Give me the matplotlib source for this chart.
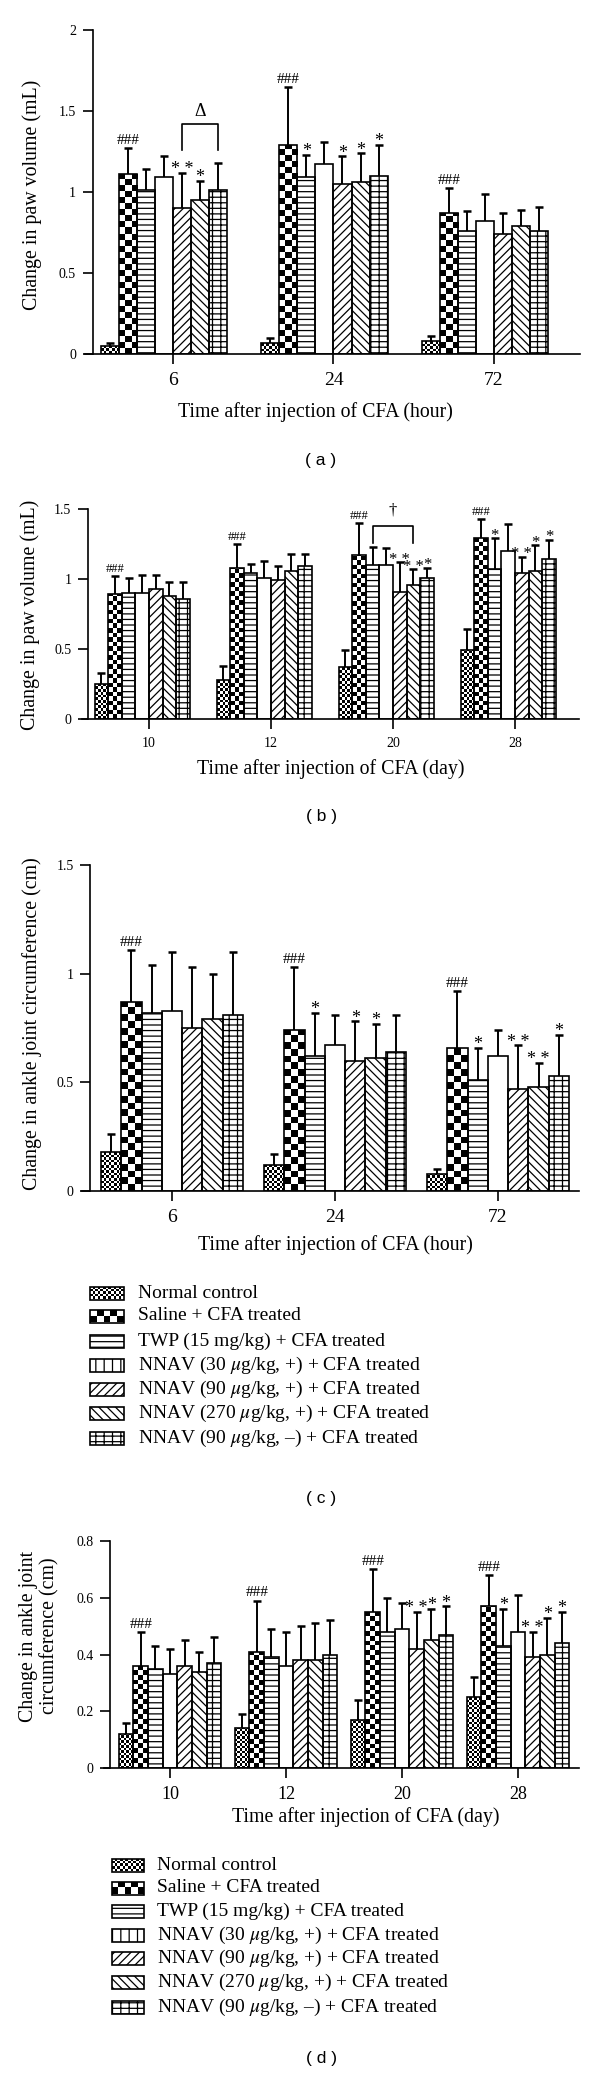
import numpy as np
import matplotlib
matplotlib.use('Agg')
import matplotlib.pyplot as plt
from matplotlib.patches import Rectangle

plt.rcParams['font.family'] = ['Liberation Serif', 'DejaVu Serif']
plt.rcParams['mathtext.fontset'] = 'stix'
plt.rcParams['hatch.linewidth'] = 0.9

# ---------------- data ----------------
series = ["Normal control", "Saline + CFA treated", "TWP (15 mg/kg) + CFA treated",
          "NNAV (30 $\\mu$g/kg, +) + CFA treated", "NNAV (90 $\\mu$g/kg, +) + CFA treated",
          "NNAV (270 $\\mu$g/kg, +) + CFA treated", "NNAV (90 $\\mu$g/kg, –) + CFA treated"]

A_ticks = ['6', '24', '72']
A_means = [[0.05, 1.11, 1.01, 1.09, 0.90, 0.95, 1.01],
           [0.07, 1.29, 1.09, 1.17, 1.05, 1.06, 1.10],
           [0.08, 0.87, 0.76, 0.82, 0.74, 0.79, 0.76]]
A_errs = [[0.02, 0.16, 0.13, 0.13, 0.22, 0.12, 0.17],
          [0.03, 0.36, 0.14, 0.14, 0.17, 0.18, 0.19],
          [0.03, 0.155, 0.12, 0.17, 0.13, 0.10, 0.15]]
A_marks = [['', '###', '', '', '**', '*', ''],
           ['', '###', '*', '', '*', '*', '*'],
           ['', '###', '', '', '', '', '']]

B_ticks = ['10', '12', '20', '28']
B_means = [[0.25, 0.89, 0.90, 0.90, 0.93, 0.88, 0.86],
           [0.28, 1.08, 1.04, 1.01, 0.99, 1.06, 1.09],
           [0.37, 1.17, 1.10, 1.10, 0.91, 0.96, 1.01],
           [0.49, 1.29, 1.07, 1.20, 1.04, 1.06, 1.14]]
B_errs = [[0.08, 0.13, 0.11, 0.13, 0.10, 0.10, 0.12],
          [0.10, 0.17, 0.07, 0.12, 0.10, 0.12, 0.09],
          [0.12, 0.23, 0.13, 0.12, 0.21, 0.11, 0.07],
          [0.15, 0.14, 0.22, 0.19, 0.12, 0.18, 0.14]]
B_marks = [['', '###', '', '', '', '', ''],
           ['', '###', '', '', '', '', ''],
           ['', '###', '', '', '**', '**', '*'],
           ['', '###', '*', '', '**', '*', '*']]

C_ticks = ['6', '24', '72']
C_means = [[0.18, 0.87, 0.82, 0.83, 0.75, 0.79, 0.81],
           [0.12, 0.74, 0.62, 0.67, 0.60, 0.61, 0.64],
           [0.08, 0.66, 0.51, 0.62, 0.47, 0.48, 0.53]]
C_errs = [[0.08, 0.24, 0.22, 0.27, 0.28, 0.21, 0.29],
          [0.05, 0.29, 0.20, 0.14, 0.18, 0.16, 0.17],
          [0.02, 0.26, 0.15, 0.12, 0.20, 0.11, 0.19]]
C_marks = [['', '###', '', '', '', '', ''],
           ['', '###', '*', '', '*', '*', ''],
           ['', '###', '*', '', '**', '**', '*']]

D_ticks = ['10', '12', '20', '28']
D_means = [[0.12, 0.36, 0.35, 0.33, 0.36, 0.34, 0.37],
           [0.14, 0.41, 0.39, 0.36, 0.38, 0.38, 0.40],
           [0.17, 0.55, 0.48, 0.49, 0.42, 0.45, 0.47],
           [0.25, 0.57, 0.43, 0.48, 0.39, 0.40, 0.44]]
D_errs = [[0.04, 0.12, 0.08, 0.09, 0.09, 0.07, 0.09],
          [0.05, 0.18, 0.10, 0.12, 0.12, 0.13, 0.12],
          [0.07, 0.15, 0.12, 0.09, 0.13, 0.11, 0.10],
          [0.07, 0.11, 0.13, 0.13, 0.09, 0.13, 0.11]]
D_marks = [['', '###', '', '', '', '', ''],
           ['', '###', '', '', '', '', ''],
           ['', '###', '', '', '**', '*', '*'],
           ['', '###', '*', '', '**', '*', '*']]

# ---------------- styles ----------------
W, H = 600, 2075
HATCH = ['', '', '---', '', '////', '\\\\\\\\', '---||']
LEG_HATCH = ['', '', '---', '||', '////', '\\\\\\\\', '---||']
CHECK = {0: 2.6, 1: 6.0}

fig = plt.figure(figsize=(W / 100, H / 100), dpi=100)
fig.patch.set_facecolor('white')


def px_axes(l, t, r, b):
    return fig.add_axes([l / W, 1 - b / H, (r - l) / W, (b - t) / H])


def checker_fill(ax, patch, size_px, pxx, pxy, z, fixed_cols=None):
    x0, y0 = patch.get_x(), patch.get_y()
    wd, h = patch.get_width(), patch.get_height()
    if h == 0:
        return
    ncols = fixed_cols if fixed_cols else max(2, int(round(wd * pxx / size_px)))
    cw = wd / ncols
    ch = cw * pxx / pxy
    nrows = max(1, int(np.ceil(abs(h) / ch)))
    arr = np.add.outer(np.arange(nrows), np.arange(ncols)) % 2
    im = ax.imshow(arr, extent=[x0, x0 + wd, y0, y0 + nrows * ch], origin='lower',
                   cmap='gray_r', vmin=0, vmax=1, interpolation='nearest',
                   aspect='auto', zorder=z)
    im.set_clip_path(patch)


def draw_panel(box, ticks, means, errs, marks, wfrac, shift, xlim, ylim, yticks,
               yticklabels, ytick_fs, xtick_fs, hash_fs, star_fs, yaxis_at):
    l, t, r, b = box
    ax = px_axes(l, t, r, b)
    means = np.array(means)
    errs = np.array(errs)
    n = len(ticks)
    x = np.arange(n)
    pxx = (r - l) / (xlim[1] - xlim[0])
    pxy = (b - t) / (ylim[1] - ylim[0])
    for i in range(7):
        pos = x + (i - 3 + shift) * wfrac
        bars = ax.bar(pos, means[:, i], width=wfrac, facecolor='white',
                      edgecolor='black', linewidth=0, hatch=HATCH[i], zorder=2)
        if i in CHECK:
            for p in bars.patches:
                checker_fill(ax, p, CHECK[i], pxx, pxy, 2.2,
                             fixed_cols=3 if i == 1 else None)
        ax.bar(pos, means[:, i], width=wfrac, fill=False, edgecolor='black',
               linewidth=1.2, zorder=3)
        eb = ax.errorbar(pos, means[:, i], yerr=[np.zeros(n), errs[:, i]], fmt='none',
                         ecolor='black', elinewidth=1.4, capsize=3, capthick=1.8,
                         zorder=2.5)
        eb[1][0].set_visible(False)
        for g in range(n):
            m = marks[g][i]
            if not m:
                continue
            top = means[g, i] + errs[g, i]
            if m.startswith('#'):
                ax.annotate(m, (pos[g], top), xytext=(0, 3), textcoords='offset points',
                            ha='center', va='baseline', fontsize=hash_fs, zorder=4)
            else:
                ax.annotate(m.replace('**', '* *'), (pos[g], top), xytext=(0, -1),
                            textcoords='offset points', ha='center', va='baseline',
                            fontsize=star_fs, zorder=4)
    ax.set_xlim(*xlim)
    ax.set_ylim(*ylim)
    ax.set_xticks(x)
    ax.set_xticklabels(ticks, fontsize=xtick_fs)
    ax.set_yticks(yticks)
    ax.set_yticklabels(yticklabels, fontsize=ytick_fs)
    for s in ['top', 'right']:
        ax.spines[s].set_visible(False)
    ax.spines['left'].set_position(('data', yaxis_at))
    ax.spines['left'].set_bounds(ylim[0], ylim[1])
    for s in ['left', 'bottom']:
        ax.spines[s].set_linewidth(1.2)
    ax.tick_params(axis='both', direction='out', length=7, width=1.2)
    ax.tick_params(axis='y', pad=5)
    ax.tick_params(axis='x', pad=6)
    ax.patch.set_alpha(0)
    return ax


def bracket(ax, g, i1, i2, wfrac, shift, ytop, yleg, sym, ysym, fs):
    x1 = g + (i1 - 3 + shift) * wfrac
    x2 = g + (i2 - 3 + shift) * wfrac
    ax.plot([x1, x1, x2, x2], [yleg, ytop, ytop, yleg], color='black', lw=1.2,
            zorder=4, clip_on=False)
    ax.text((x1 + x2) / 2, ysym, sym, ha='center', va='center', fontsize=fs, zorder=4)


# ---------------- panel (a) ----------------
axA = draw_panel((85, 30, 580, 354), A_ticks, A_means, A_errs, A_marks, 0.1125, -0.5,
                 (-0.548, 2.536), (0, 2), [0, 0.5, 1, 1.5, 2],
                 ['0', '0.5', '1', '1.5', '2'], 14, 14, 11, 13, -0.5)
bracket(axA, 0, 4, 6, 0.1125, -0.5, 1.42, 1.26, 'Δ', 1.50, 13)

# ---------------- panel (b) ----------------
axB = draw_panel((82, 509, 579, 719), B_ticks, B_means, B_errs, B_marks, 0.1115, -0.5,
                 (-0.549, 3.525), (0, 1.5), [0, 0.5, 1, 1.5],
                 ['0', '0.5', '1', '1.5'], 14, 10, 9, 12, -0.5)
bracket(axB, 2, 2, 5, 0.1115, -0.5, 1.379, 1.257, '†', 1.49, 12)

# ---------------- panel (c) ----------------
axC = draw_panel((82, 865, 579, 1191), C_ticks, C_means, C_errs, C_marks, 0.1245, 0,
                 (-0.552, 2.497), (0, 1.5), [0, 0.5, 1, 1.5],
                 ['0', '0.5', '1', '1.5'], 14, 14, 11, 13, -0.5)

# ---------------- panel (d) ----------------
axD = draw_panel((104, 1541, 579, 1768), D_ticks, D_means, D_errs, D_marks, 0.126, 0,
                 (-0.569, 3.526), (0, 0.8), [0, 0.2, 0.4, 0.6, 0.8],
                 ['0', '0.2', '0.4', '0.6', '0.8'], 14, 13, 11, 13, -0.517)

# ---------------- overlay for labels & legends ----------------
ov = fig.add_axes([0, 0, 1, 1])
ov.set_xlim(0, W)
ov.set_ylim(H, 0)
ov.axis('off')
ov.patch.set_alpha(0)

lab_fs = 14.3
ov.text(32, 195, 'Change in paw volume (mL)', rotation=90, ha='center', va='center', fontsize=lab_fs)
ov.text(315, 412, 'Time after injection of CFA (hour)', ha='center', va='center', fontsize=lab_fs)
ov.text(30, 615, 'Change in paw volume (mL)', rotation=90, ha='center', va='center', fontsize=lab_fs)
ov.text(331, 769, 'Time after injection of CFA (day)', ha='center', va='center', fontsize=lab_fs)
ov.text(32, 1024, 'Change in ankle joint circumference (cm)', rotation=90, ha='center',
        va='center', fontsize=lab_fs)
ov.text(335, 1245, 'Time after injection of CFA (hour)', ha='center', va='center', fontsize=lab_fs)
ov.text(39, 1636, 'Change in ankle joint\ncircumference (cm)', rotation=90, ha='center',
        va='center', fontsize=lab_fs, linespacing=1.15, multialignment='center')
ov.text(366, 1817, 'Time after injection of CFA (day)', ha='center', va='center', fontsize=lab_fs)

for lab, y in [('( a )', 460), ('( b )', 817), ('( c )', 1498), ('( d )', 2058)]:
    ov.text(321, y, lab, ha='center', va='center', fontsize=12.5,
            family=['Liberation Sans', 'DejaVu Sans'])


def legend(x0, x1, text_x, rows, sh, fs):
    for i, (name, y) in enumerate(zip(series, rows)):
        rect = Rectangle((x0, y - sh / 2), x1 - x0, sh, facecolor='white',
                         edgecolor='black', linewidth=0, hatch=LEG_HATCH[i], zorder=2)
        ov.add_patch(rect)
        if i in CHECK:
            checker_fill(ov, rect, CHECK[i], 1, 1, 2.2, fixed_cols=5 if i == 1 else None)
        ov.add_patch(Rectangle((x0, y - sh / 2), x1 - x0, sh, fill=False,
                               edgecolor='black', linewidth=1.2, zorder=3))
        ov.text(text_x, y, name, ha='left', va='center', fontsize=fs)


legend(90, 124, 138, [1293, 1316, 1341, 1365, 1389, 1413, 1438], 13, 14)
legend(112, 144, 157, [1865, 1888, 1911, 1935, 1958, 1982, 2007], 13, 14)
ov.set_xlim(0, W)
ov.set_ylim(H, 0)

fig.savefig('out.png', dpi=100, facecolor='white')
